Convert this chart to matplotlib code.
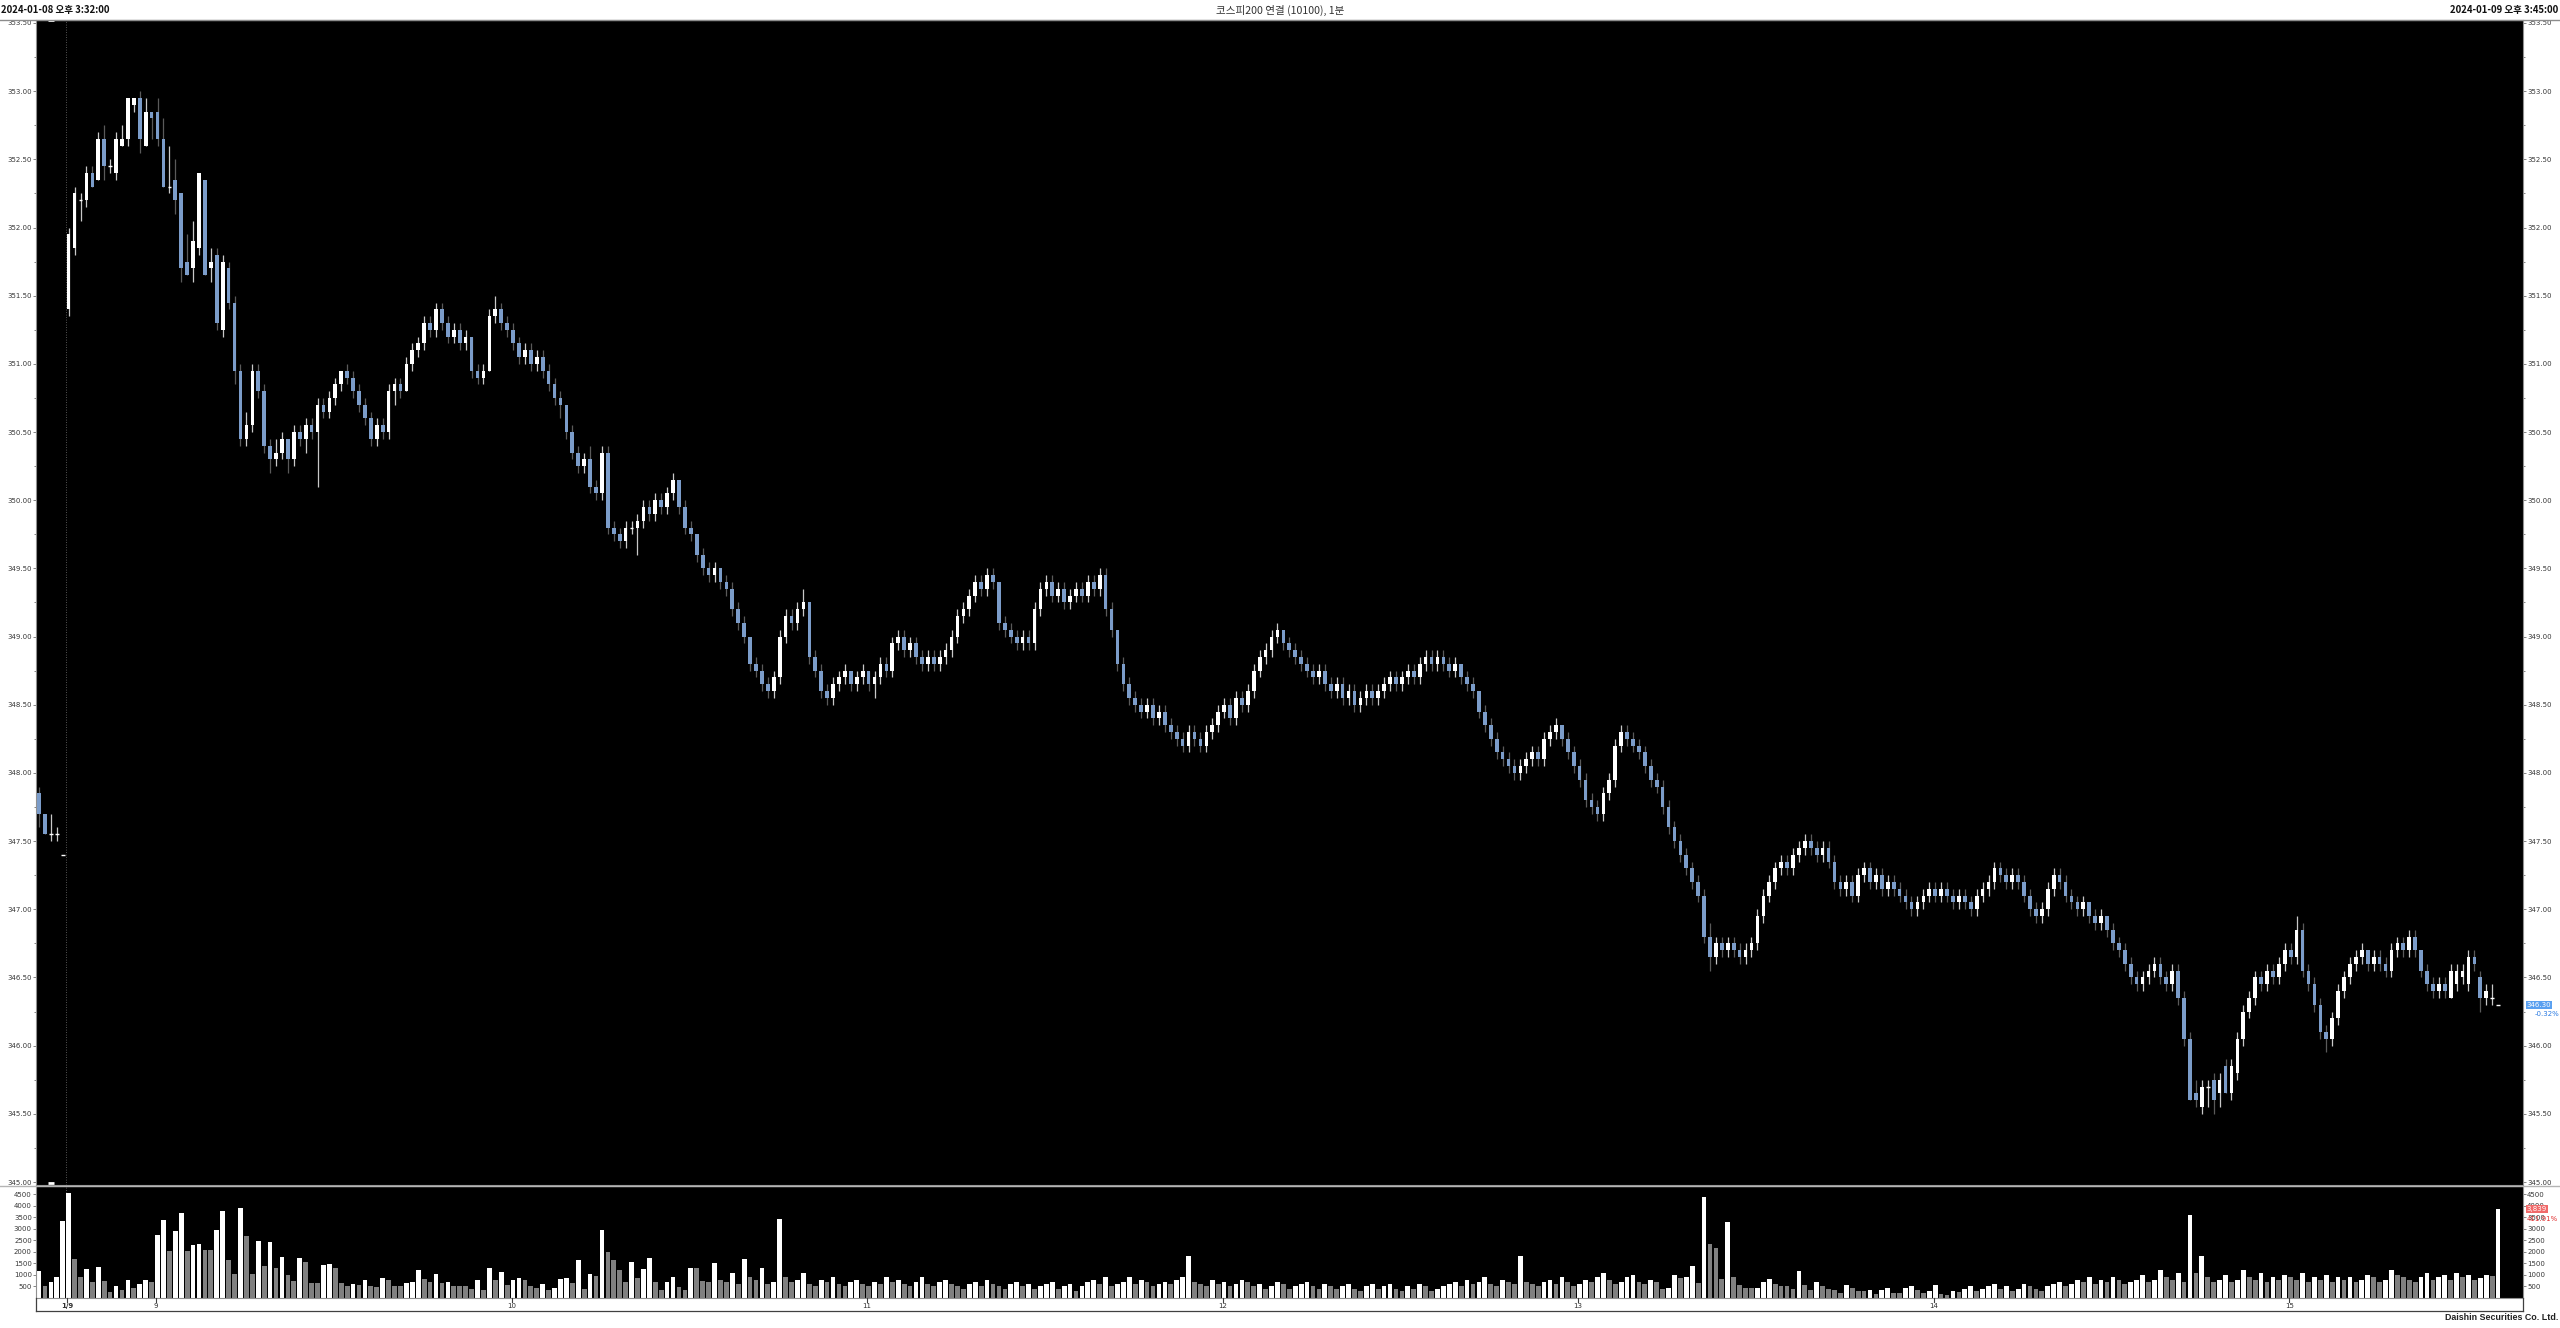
import matplotlib
matplotlib.use('Agg')
import matplotlib.pyplot as plt
from matplotlib.lines import Line2D
from matplotlib.patches import Rectangle

# ---------------- data: 1-minute candles (5 from 1/8 close, then 1/9 08:45 onward) ----------------
opens = [
347.85, 347.70, 347.55, 347.55, 347.40, 351.40, 351.85, 352.20, 352.20, 352.40,
352.35, 352.65, 352.45, 352.40, 352.60, 352.65, 352.90, 352.95, 352.60, 352.85,
352.85, 352.65, 352.30, 352.35, 352.25, 351.75, 351.70, 351.85, 352.35, 351.70,
351.80, 351.25, 351.70, 351.45, 350.95, 350.45, 350.55, 350.95, 350.80, 350.40,
350.30, 350.35, 350.45, 350.30, 350.50, 350.45, 350.55, 350.50, 350.70, 350.65,
350.75, 350.85, 350.95, 350.90, 350.80, 350.70, 350.60, 350.45, 350.55, 350.50,
350.80, 350.85, 350.80, 351.00, 351.10, 351.15, 351.30, 351.25, 351.40, 351.30,
351.20, 351.25, 351.15, 351.20, 350.95, 350.90, 350.95, 351.35, 351.40, 351.30,
351.25, 351.15, 351.05, 351.10, 351.00, 351.05, 350.95, 350.85, 350.75, 350.70,
350.50, 350.35, 350.25, 350.30, 350.10, 350.05, 350.35, 349.80, 349.75, 349.70,
349.80, 349.80, 349.85, 349.95, 349.90, 350.00, 349.95, 350.05, 350.15, 349.95,
349.80, 349.75, 349.60, 349.50, 349.45, 349.50, 349.40, 349.35, 349.20, 349.10,
349.00, 348.80, 348.75, 348.65, 348.60, 348.70, 349.00, 349.15, 349.10, 349.20,
349.25, 348.85, 348.75, 348.60, 348.55, 348.65, 348.70, 348.75, 348.65, 348.70,
348.75, 348.65, 348.70, 348.80, 348.75, 348.95, 349.00, 348.90, 348.95, 348.85,
348.80, 348.85, 348.80, 348.85, 348.90, 349.00, 349.15, 349.20, 349.30, 349.40,
349.35, 349.45, 349.40, 349.10, 349.05, 349.00, 348.95, 349.00, 348.95, 349.20,
349.35, 349.40, 349.30, 349.35, 349.25, 349.30, 349.35, 349.30, 349.40, 349.35,
349.45, 349.20, 349.05, 348.80, 348.65, 348.55, 348.50, 348.45, 348.50, 348.40,
348.45, 348.35, 348.30, 348.25, 348.20, 348.30, 348.25, 348.20, 348.30, 348.35,
348.45, 348.50, 348.40, 348.55, 348.50, 348.60, 348.75, 348.85, 348.90, 349.00,
349.05, 348.95, 348.90, 348.85, 348.80, 348.75, 348.70, 348.75, 348.65, 348.60,
348.65, 348.55, 348.60, 348.50, 348.55, 348.60, 348.55, 348.60, 348.65, 348.70,
348.65, 348.70, 348.75, 348.70, 348.80, 348.85, 348.80, 348.85, 348.80, 348.75,
348.80, 348.70, 348.65, 348.60, 348.45, 348.35, 348.25, 348.15, 348.10, 348.05,
348.00, 348.05, 348.10, 348.15, 348.10, 348.25, 348.30, 348.35, 348.25, 348.15,
348.05, 347.95, 347.80, 347.75, 347.70, 347.85, 347.95, 348.20, 348.30, 348.25,
348.20, 348.15, 348.05, 347.95, 347.90, 347.75, 347.60, 347.50, 347.40, 347.30,
347.20, 347.10, 346.80, 346.65, 346.75, 346.70, 346.75, 346.70, 346.65, 346.70,
346.75, 346.95, 347.10, 347.20, 347.30, 347.35, 347.30, 347.40, 347.45, 347.50,
347.45, 347.40, 347.45, 347.35, 347.20, 347.15, 347.20, 347.10, 347.25, 347.30,
347.20, 347.25, 347.15, 347.20, 347.15, 347.10, 347.05, 347.00, 347.05, 347.10,
347.15, 347.10, 347.15, 347.10, 347.05, 347.10, 347.05, 347.00, 347.10, 347.15,
347.20, 347.30, 347.25, 347.20, 347.25, 347.20, 347.10, 347.00, 346.95, 347.00,
347.15, 347.25, 347.20, 347.10, 347.05, 347.00, 347.05, 346.95, 346.90, 346.95,
346.85, 346.75, 346.70, 346.60, 346.50, 346.45, 346.50, 346.55, 346.60, 346.50,
346.45, 346.55, 346.35, 346.05, 345.65, 345.55, 345.70, 345.75, 345.65, 345.85,
345.65, 345.80, 346.05, 346.25, 346.35, 346.50, 346.45, 346.55, 346.50, 346.60,
346.70, 346.65, 346.85, 346.55, 346.45, 346.30, 346.10, 346.05, 346.20, 346.40,
346.50, 346.60, 346.65, 346.70, 346.60, 346.65, 346.60, 346.55, 346.70, 346.75,
346.70, 346.80, 346.70, 346.55, 346.45, 346.40, 346.45, 346.35, 346.45, 346.50,
346.45, 346.65, 346.50, 346.35, 346.35, 346.30,
]
highs = [
347.90, 347.70, 347.70, 347.60, 347.40, 352.00, 352.30, 352.25, 352.45, 352.45,
352.70, 352.75, 352.50, 352.70, 352.75, 352.95, 352.95, 353.00, 352.95, 352.85,
352.95, 352.80, 352.60, 352.50, 352.25, 351.95, 352.05, 352.40, 352.35, 351.85,
351.85, 351.80, 351.75, 351.50, 351.00, 350.65, 351.00, 351.00, 350.85, 350.45,
350.45, 350.50, 350.45, 350.55, 350.55, 350.60, 350.60, 350.75, 350.75, 350.80,
350.90, 350.95, 351.00, 350.95, 350.85, 350.75, 350.65, 350.60, 350.60, 350.85,
350.90, 350.90, 351.05, 351.15, 351.20, 351.35, 351.35, 351.45, 351.45, 351.35,
351.30, 351.30, 351.25, 351.20, 351.00, 351.00, 351.40, 351.50, 351.45, 351.35,
351.30, 351.20, 351.15, 351.15, 351.10, 351.10, 351.00, 350.90, 350.80, 350.70,
350.55, 350.40, 350.35, 350.40, 350.15, 350.40, 350.40, 349.85, 349.80, 349.85,
349.85, 349.90, 350.00, 350.00, 350.05, 350.05, 350.10, 350.20, 350.15, 350.00,
349.85, 349.75, 349.65, 349.55, 349.55, 349.50, 349.45, 349.40, 349.25, 349.15,
349.00, 348.85, 348.80, 348.70, 348.75, 349.05, 349.20, 349.20, 349.25, 349.35,
349.25, 348.90, 348.80, 348.65, 348.70, 348.75, 348.80, 348.75, 348.75, 348.80,
348.75, 348.75, 348.85, 348.85, 349.00, 349.05, 349.05, 349.00, 349.00, 348.90,
348.90, 348.90, 348.90, 348.95, 349.05, 349.20, 349.25, 349.35, 349.45, 349.45,
349.50, 349.50, 349.40, 349.15, 349.10, 349.05, 349.05, 349.05, 349.25, 349.40,
349.45, 349.45, 349.40, 349.40, 349.35, 349.40, 349.40, 349.45, 349.45, 349.50,
349.50, 349.25, 349.05, 348.85, 348.70, 348.60, 348.55, 348.55, 348.55, 348.50,
348.50, 348.40, 348.35, 348.30, 348.35, 348.35, 348.30, 348.35, 348.40, 348.50,
348.55, 348.55, 348.60, 348.60, 348.65, 348.80, 348.90, 348.95, 349.05, 349.10,
349.05, 349.00, 348.95, 348.90, 348.85, 348.80, 348.80, 348.80, 348.70, 348.70,
348.70, 348.65, 348.65, 348.60, 348.65, 348.65, 348.65, 348.70, 348.75, 348.75,
348.75, 348.80, 348.80, 348.85, 348.90, 348.90, 348.90, 348.90, 348.85, 348.85,
348.80, 348.75, 348.70, 348.60, 348.50, 348.40, 348.30, 348.20, 348.15, 348.10,
348.10, 348.15, 348.20, 348.20, 348.30, 348.35, 348.40, 348.35, 348.30, 348.20,
348.10, 348.00, 347.85, 347.80, 347.90, 348.00, 348.25, 348.35, 348.35, 348.30,
348.25, 348.20, 348.10, 348.00, 347.95, 347.80, 347.65, 347.55, 347.45, 347.35,
347.25, 347.15, 346.90, 346.80, 346.80, 346.80, 346.80, 346.75, 346.75, 346.80,
347.00, 347.15, 347.25, 347.35, 347.40, 347.40, 347.45, 347.50, 347.55, 347.55,
347.50, 347.50, 347.50, 347.40, 347.25, 347.25, 347.25, 347.30, 347.35, 347.35,
347.30, 347.30, 347.25, 347.25, 347.20, 347.15, 347.10, 347.10, 347.15, 347.20,
347.20, 347.20, 347.20, 347.15, 347.15, 347.15, 347.10, 347.15, 347.20, 347.25,
347.35, 347.35, 347.30, 347.30, 347.30, 347.25, 347.15, 347.05, 347.05, 347.20,
347.30, 347.30, 347.25, 347.15, 347.10, 347.10, 347.05, 347.00, 347.00, 346.95,
346.90, 346.80, 346.75, 346.65, 346.55, 346.55, 346.60, 346.65, 346.65, 346.55,
346.60, 346.60, 346.40, 346.10, 345.75, 345.75, 345.75, 345.80, 345.80, 345.90,
345.90, 346.10, 346.30, 346.40, 346.55, 346.55, 346.60, 346.60, 346.65, 346.75,
346.75, 346.95, 346.90, 346.60, 346.50, 346.35, 346.15, 346.25, 346.45, 346.55,
346.65, 346.70, 346.75, 346.70, 346.70, 346.70, 346.65, 346.75, 346.80, 346.80,
346.85, 346.85, 346.70, 346.60, 346.50, 346.50, 346.50, 346.60, 346.60, 346.60,
346.70, 346.70, 346.55, 346.45, 346.45, 346.30,
]
lows = [
347.60, 347.55, 347.50, 347.50, 347.40, 351.35, 351.80, 352.05, 352.15, 352.30,
352.35, 352.35, 352.40, 352.35, 352.60, 352.60, 352.85, 352.55, 352.60, 352.65,
352.60, 352.30, 352.25, 352.10, 351.60, 351.65, 351.60, 351.80, 351.65, 351.60,
351.25, 351.20, 351.40, 350.85, 350.40, 350.40, 350.50, 350.75, 350.35, 350.20,
350.25, 350.30, 350.20, 350.25, 350.40, 350.35, 350.45, 350.10, 350.60, 350.60,
350.70, 350.80, 350.85, 350.75, 350.65, 350.55, 350.40, 350.40, 350.45, 350.45,
350.70, 350.75, 350.80, 350.95, 351.05, 351.10, 351.20, 351.20, 351.25, 351.15,
351.15, 351.10, 351.10, 350.90, 350.85, 350.85, 350.95, 351.30, 351.25, 351.20,
351.10, 351.00, 351.00, 350.95, 350.95, 350.90, 350.80, 350.70, 350.60, 350.45,
350.30, 350.20, 350.20, 350.05, 350.00, 350.00, 349.75, 349.70, 349.65, 349.65,
349.75, 349.60, 349.80, 349.85, 349.85, 349.90, 349.90, 350.00, 349.90, 349.75,
349.70, 349.55, 349.45, 349.40, 349.40, 349.35, 349.30, 349.15, 349.05, 348.95,
348.75, 348.70, 348.60, 348.55, 348.55, 348.65, 348.95, 349.05, 349.05, 349.15,
348.80, 348.70, 348.55, 348.50, 348.50, 348.60, 348.65, 348.60, 348.60, 348.65,
348.60, 348.55, 348.65, 348.70, 348.70, 348.90, 348.85, 348.85, 348.80, 348.75,
348.75, 348.75, 348.75, 348.80, 348.85, 348.95, 349.10, 349.15, 349.25, 349.30,
349.30, 349.35, 349.05, 349.00, 348.95, 348.90, 348.90, 348.90, 348.90, 349.15,
349.30, 349.25, 349.25, 349.20, 349.20, 349.25, 349.25, 349.25, 349.30, 349.30,
349.15, 349.00, 348.75, 348.60, 348.50, 348.45, 348.40, 348.40, 348.35, 348.35,
348.30, 348.25, 348.20, 348.15, 348.15, 348.20, 348.15, 348.15, 348.25, 348.30,
348.40, 348.35, 348.35, 348.45, 348.45, 348.55, 348.70, 348.80, 348.85, 348.95,
348.90, 348.85, 348.80, 348.75, 348.70, 348.65, 348.65, 348.60, 348.55, 348.55,
348.50, 348.50, 348.45, 348.45, 348.50, 348.50, 348.50, 348.55, 348.60, 348.60,
348.60, 348.65, 348.65, 348.65, 348.75, 348.75, 348.75, 348.75, 348.70, 348.70,
348.65, 348.60, 348.55, 348.40, 348.30, 348.20, 348.10, 348.05, 348.00, 347.95,
347.95, 348.00, 348.05, 348.05, 348.05, 348.20, 348.25, 348.20, 348.10, 348.00,
347.90, 347.75, 347.70, 347.65, 347.65, 347.80, 347.90, 348.15, 348.20, 348.15,
348.10, 348.00, 347.90, 347.85, 347.70, 347.55, 347.45, 347.35, 347.25, 347.15,
347.05, 346.75, 346.55, 346.60, 346.65, 346.65, 346.65, 346.60, 346.60, 346.65,
346.70, 346.90, 347.05, 347.15, 347.25, 347.25, 347.25, 347.35, 347.40, 347.40,
347.35, 347.35, 347.30, 347.15, 347.10, 347.10, 347.05, 347.05, 347.20, 347.15,
347.15, 347.10, 347.10, 347.10, 347.05, 347.00, 346.95, 346.95, 347.00, 347.05,
347.05, 347.05, 347.05, 347.00, 347.00, 347.00, 346.95, 346.95, 347.05, 347.10,
347.15, 347.20, 347.15, 347.15, 347.15, 347.05, 346.95, 346.90, 346.90, 346.95,
347.10, 347.15, 347.05, 347.00, 346.95, 346.95, 346.90, 346.85, 346.85, 346.80,
346.70, 346.65, 346.55, 346.45, 346.40, 346.40, 346.45, 346.50, 346.45, 346.40,
346.40, 346.30, 346.00, 345.60, 345.55, 345.50, 345.55, 345.50, 345.55, 345.65,
345.60, 345.75, 346.00, 346.20, 346.30, 346.40, 346.40, 346.45, 346.45, 346.55,
346.60, 346.60, 346.50, 346.40, 346.25, 346.05, 345.95, 346.00, 346.15, 346.35,
346.45, 346.55, 346.60, 346.55, 346.55, 346.55, 346.50, 346.50, 346.65, 346.65,
346.65, 346.65, 346.50, 346.40, 346.35, 346.35, 346.35, 346.35, 346.40, 346.45,
346.40, 346.55, 346.25, 346.30, 346.30, 346.30,
]
closes = [
347.70, 347.55, 347.55, 347.55, 347.40, 351.95, 352.25, 352.20, 352.40, 352.30,
352.65, 352.45, 352.45, 352.65, 352.65, 352.95, 352.95, 352.65, 352.85, 352.80,
352.65, 352.30, 352.30, 352.20, 351.70, 351.65, 351.90, 352.40, 351.65, 351.75,
351.30, 351.75, 351.45, 350.95, 350.45, 350.55, 350.95, 350.80, 350.40, 350.30,
350.35, 350.45, 350.30, 350.50, 350.45, 350.55, 350.50, 350.70, 350.65, 350.75,
350.85, 350.95, 350.90, 350.80, 350.70, 350.60, 350.45, 350.55, 350.50, 350.80,
350.85, 350.80, 351.00, 351.10, 351.15, 351.30, 351.25, 351.40, 351.30, 351.20,
351.25, 351.15, 351.20, 350.95, 350.90, 350.95, 351.35, 351.40, 351.30, 351.25,
351.15, 351.05, 351.10, 351.00, 351.05, 350.95, 350.85, 350.75, 350.70, 350.50,
350.35, 350.25, 350.30, 350.10, 350.05, 350.35, 349.80, 349.75, 349.70, 349.80,
349.80, 349.85, 349.95, 349.90, 350.00, 349.95, 350.05, 350.15, 349.95, 349.80,
349.75, 349.60, 349.50, 349.45, 349.50, 349.40, 349.35, 349.20, 349.10, 349.00,
348.80, 348.75, 348.65, 348.60, 348.70, 349.00, 349.15, 349.10, 349.20, 349.25,
348.85, 348.75, 348.60, 348.55, 348.65, 348.70, 348.75, 348.65, 348.70, 348.75,
348.65, 348.70, 348.80, 348.75, 348.95, 349.00, 348.90, 348.95, 348.85, 348.80,
348.85, 348.80, 348.85, 348.90, 349.00, 349.15, 349.20, 349.30, 349.40, 349.35,
349.45, 349.40, 349.10, 349.05, 349.00, 348.95, 349.00, 348.95, 349.20, 349.35,
349.40, 349.30, 349.35, 349.25, 349.30, 349.35, 349.30, 349.40, 349.35, 349.45,
349.20, 349.05, 348.80, 348.65, 348.55, 348.50, 348.45, 348.50, 348.40, 348.45,
348.35, 348.30, 348.25, 348.20, 348.30, 348.25, 348.20, 348.30, 348.35, 348.45,
348.50, 348.40, 348.55, 348.50, 348.60, 348.75, 348.85, 348.90, 349.00, 349.05,
348.95, 348.90, 348.85, 348.80, 348.75, 348.70, 348.75, 348.65, 348.60, 348.65,
348.55, 348.60, 348.50, 348.55, 348.60, 348.55, 348.60, 348.65, 348.70, 348.65,
348.70, 348.75, 348.70, 348.80, 348.85, 348.80, 348.85, 348.80, 348.75, 348.80,
348.70, 348.65, 348.60, 348.45, 348.35, 348.25, 348.15, 348.10, 348.05, 348.00,
348.05, 348.10, 348.15, 348.10, 348.25, 348.30, 348.35, 348.25, 348.15, 348.05,
347.95, 347.80, 347.75, 347.70, 347.85, 347.95, 348.20, 348.30, 348.25, 348.20,
348.15, 348.05, 347.95, 347.90, 347.75, 347.60, 347.50, 347.40, 347.30, 347.20,
347.10, 346.80, 346.65, 346.75, 346.70, 346.75, 346.70, 346.65, 346.70, 346.75,
346.95, 347.10, 347.20, 347.30, 347.35, 347.30, 347.40, 347.45, 347.50, 347.45,
347.40, 347.45, 347.35, 347.20, 347.15, 347.20, 347.10, 347.25, 347.30, 347.20,
347.25, 347.15, 347.20, 347.15, 347.10, 347.05, 347.00, 347.05, 347.10, 347.15,
347.10, 347.15, 347.10, 347.05, 347.10, 347.05, 347.00, 347.10, 347.15, 347.20,
347.30, 347.25, 347.20, 347.25, 347.20, 347.10, 347.00, 346.95, 347.00, 347.15,
347.25, 347.20, 347.10, 347.05, 347.00, 347.05, 346.95, 346.90, 346.95, 346.85,
346.75, 346.70, 346.60, 346.50, 346.45, 346.50, 346.55, 346.60, 346.50, 346.45,
346.55, 346.35, 346.05, 345.60, 345.60, 345.70, 345.70, 345.60, 345.75, 345.65,
345.85, 346.05, 346.25, 346.35, 346.50, 346.45, 346.55, 346.50, 346.60, 346.70,
346.65, 346.85, 346.55, 346.45, 346.30, 346.10, 346.05, 346.20, 346.40, 346.50,
346.60, 346.65, 346.70, 346.60, 346.65, 346.60, 346.55, 346.70, 346.75, 346.70,
346.80, 346.70, 346.55, 346.45, 346.40, 346.45, 346.40, 346.55, 346.55, 346.55,
346.65, 346.60, 346.35, 346.40, 346.35, 346.30,
]

vol_rows = [
[1155, 505, 693, 895, 3321, 4549, 1690, 910, 1270, 693],
[1330, 750, 274, 534, 361, 794, 433, 621, 794, 693],
[2742, 3391, 2049, 2886, 3665, 2020, 2280, 2338, 2100, 2090],
[2958, 3781, 1659, 1039, 3896, 2698, 1053, 2482, 1385, 2410],
[1299, 1760, 996, 736, 1732, 1573, 649, 649, 1443, 1472],
[1299, 649, 505, 620, 563, 765, 519, 491, 851, 765],
[534, 519, 649, 678, 1198, 822, 707, 1025, 649, 678],
[534, 530, 525, 390, 765, 346, 1299, 765, 1140, 563],
[779, 851, 765, 519, 418, 620, 361, 447, 822, 880],
[649, 1645, 390, 1053, 967, 2944, 2006, 1631, 1227, 707],
[1544, 880, 1255, 1732, 678, 332, 678, 909, 476, 361],
[1313, 1313, 736, 707, 1500, 800, 700, 1100, 600, 1700],
[900, 800, 1300, 600, 700, 3400, 900, 700, 800, 1100],
[600, 500, 800, 700, 900, 600, 500, 700, 800, 600],
[500, 700, 600, 900, 700, 800, 600, 500, 700, 900],
[600, 500, 700, 800, 600, 500, 400, 600, 700, 500],
[800, 600, 500, 400, 600, 700, 500, 600, 400, 500],
[600, 700, 400, 500, 600, 300, 500, 700, 800, 600],
[900, 500, 600, 700, 900, 600, 800, 700, 500, 600],
[700, 600, 800, 900, 1800, 700, 600, 500, 800, 600],
[700, 500, 600, 800, 700, 500, 600, 400, 500, 700],
[600, 400, 500, 600, 700, 500, 400, 600, 500, 400],
[500, 600, 400, 300, 500, 600, 400, 500, 600, 400],
[300, 500, 400, 600, 500, 300, 400, 500, 600, 700],
[500, 800, 600, 700, 900, 600, 500, 800, 700, 600],
[1800, 700, 600, 500, 700, 800, 600, 900, 700, 500],
[600, 800, 700, 900, 1100, 800, 600, 700, 900, 1000],
[700, 600, 800, 700, 372, 444, 1017, 860, 917, 1375],
[659, 4384, 2350, 2163, 802, 3281, 903, 573, 444, 415],
[444, 702, 802, 616, 516, 516, 372, 1189, 573, 330],
[702, 516, 401, 344, 200, 544, 430, 301, 301, 330],
[186, 344, 444, 229, 229, 444, 516, 330, 229, 301],
[544, 158, 115, 301, 258, 400, 500, 300, 400, 500],
[600, 400, 500, 300, 400, 600, 500, 400, 300, 500],
[600, 700, 500, 600, 800, 700, 900, 600, 800, 700],
[900, 800, 600, 700, 800, 1000, 700, 800, 1200, 900],
[800, 1100, 700, 3600, 1100, 1800, 900, 700, 800, 1000],
[700, 800, 1200, 900, 800, 1100, 700, 900, 800, 1000],
[900, 800, 1100, 700, 900, 800, 1000, 700, 900, 800],
[900, 700, 800, 1000, 900, 700, 800, 1200, 1000, 900],
[800, 700, 900, 1100, 800, 900, 1000, 800, 1100, 900],
[1000, 800, 850, 1000, 932, 3839],
]
volumes = [v for row in vol_rows for v in row]

x_labels = ['1/9', '9', '10', '11', '12', '13', '14', '15']
x_label_idx = [5, 20, 80, 140, 200, 260, 320, 380]

prev_close = 347.40
title_left = '2024-01-08 오후 3:32:00'
title_center = '코스피200 연결 (10100), 1분'
title_right = '2024-01-09 오후 3:45:00'
footer = 'Daishin Securities Co. Ltd.'

# ---------------- figure ----------------
W, H = 2560, 1328
fig = plt.figure(figsize=(W / 100, H / 100), dpi=100)
fig.patch.set_facecolor('white')

def rect(x0, y0, x1, y1):
    return [x0 / W, 1 - y1 / H, (x1 - x0) / W, (y1 - y0) / H]

ax = fig.add_axes(rect(36, 20, 2523, 1185))
axv = fig.add_axes(rect(36, 1186, 2523, 1298))

UP_BODY = '#ffffff'
DN_BODY = '#7b9cc9'
UP_WICK = '#c8c8c8'
DN_WICK = '#5a5a5a'
LBL = '#383838'

n = min(len(opens), len(highs), len(lows), len(closes))
nv = len(volumes)
for a in (ax, axv):
    a.set_facecolor('black')
    a.set_xlim(-0.51, 419.2)
    for s in a.spines.values():
        s.set_color('#909090')
        s.set_linewidth(0.8)
    a.set_xticks([])

bw = 0.62
for i in range(n):
    o, h, l, c = opens[i], highs[i], lows[i], closes[i]
    up = c >= o
    wc = UP_WICK if up else DN_WICK
    ax.vlines(i, min(l, o, c), max(h, o, c), color=wc, linewidth=0.9, zorder=2)
    if abs(c - o) < 1e-9:
        ax.hlines(c, i - bw / 2, i + bw / 2, color='white', linewidth=1.0, zorder=3)
    else:
        ax.add_patch(Rectangle((i - bw / 2, min(o, c)), bw, abs(c - o),
                               facecolor=UP_BODY if up else DN_BODY,
                               edgecolor='none', zorder=3))

ax.set_ylim(344.978, 353.522)
yt = [345.0 + 0.5 * k for k in range(18)]
ax.set_yticks(yt)
ax.set_yticklabels([f'{v:.2f}' for v in yt])
ax.set_yticks([345.25 + 0.5 * k for k in range(17)], minor=True)

vcols = []
for i, v in enumerate(volumes):
    if i == 0:
        vcols.append('white')
    else:
        vcols.append('white' if v > volumes[i - 1] else '#808080')
axv.bar(list(range(nv)), volumes, width=0.8, color=vcols, edgecolor='none', zorder=2)
axv.set_ylim(0, 4850)
vt = list(range(500, 5000, 500))
axv.set_yticks(vt)
axv.set_yticklabels([str(v) for v in vt])

for a in (ax, axv):
    a.tick_params(axis='y', which='both', left=True, right=True,
                  labelleft=True, labelright=True, direction='out',
                  colors='#707070', labelcolor=LBL, labelsize=5.0,
                  length=2.5, width=0.6, pad=0.5)
    a.tick_params(axis='y', which='minor', length=1.5)

for a in (ax, axv):
    a.axvline(4.55, color='#707070', linewidth=0.6, linestyle=(0, (1, 2)), zorder=1)

ax.plot([2.0], [353.52], marker='_', color='white', markersize=4, mew=2, clip_on=False, zorder=5)
ax.plot([2.0], [344.99], marker='_', color='white', markersize=4, mew=2, clip_on=False, zorder=5)

fig.add_artist(Line2D([0, 1], [1 - 20 / H, 1 - 20 / H], color='#8c8c8c', linewidth=1.0))
fig.add_artist(Line2D([0, 1], [1 - 1185.5 / H, 1 - 1185.5 / H], color='#b4b4b4', linewidth=1.0))
fig.add_artist(Line2D([36 / W, 2523 / W], [1 - 1311 / H, 1 - 1311 / H], color='#404040', linewidth=0.9))
fig.add_artist(Line2D([36 / W, 36 / W], [1 - 1298 / H, 1 - 1311 / H], color='#404040', linewidth=0.9))
fig.add_artist(Line2D([2523 / W, 2523 / W], [1 - 1298 / H, 1 - 1311 / H], color='#404040', linewidth=0.9))

def xpix(i):
    return 36 + (i + 0.51) / (419.2 + 0.51) * (2523 - 36)

for lab, idx in zip(x_labels, x_label_idx):
    xp = xpix(idx) - 1.5
    fig.add_artist(Line2D([xp / W, xp / W], [1 - 1298 / H, 1 - 1302 / H], color='#404040', linewidth=0.8))
    fig.text(xp / W, 1 - 1306 / H, lab, ha='center', va='center', fontsize=5.0,
             color='#303030', fontfamily='DejaVu Sans', fontweight='bold' if lab == '1/9' else 'normal')

kfont = ['Noto Sans CJK KR', 'DejaVu Sans']
fig.text(1 / W, 1 - 10 / H, title_left, ha='left', va='center', fontsize=6.9,
         fontweight='bold', family=kfont, color='#111111')
fig.text(1280 / W, 1 - 10.5 / H, title_center, ha='center', va='center', fontsize=7.6,
         family=kfont, color='#333333')
fig.text(2558 / W, 1 - 10 / H, title_right, ha='right', va='center', fontsize=6.9,
         fontweight='bold', family=kfont, color='#111111')
fig.text(2558 / W, 1 - 1318 / H, footer, ha='right', va='center', fontsize=6.4,
         fontweight='bold', family=['Liberation Sans', 'DejaVu Sans'], color='#222222')

last = closes[n - 1]
chg = (last / prev_close - 1) * 100
ax.text(1.0015, last, f'{last:.2f}', transform=ax.get_yaxis_transform(), ha='left', va='center',
        fontsize=5.0, color='white', clip_on=False, zorder=10,
        bbox=dict(boxstyle='square,pad=0.15', facecolor='#5aa0f0', edgecolor='none'))
ax.text(1.0045, last - 0.07, f'{chg:.2f}%', transform=ax.get_yaxis_transform(), ha='left', va='center',
        fontsize=5.0, color='#2a7ae2', clip_on=False, zorder=10)

lv = volumes[-1]
ratio = lv / volumes[-2] * 100
axv.text(1.0015, lv, f'{lv:,}', transform=axv.get_yaxis_transform(), ha='left', va='center',
         fontsize=5.0, color='white', clip_on=False, zorder=10,
         bbox=dict(boxstyle='square,pad=0.15', facecolor='#f06a6a', edgecolor='none'))
axv.text(1.0015, lv - 420, f'{ratio:.2f}%', transform=axv.get_yaxis_transform(), ha='left', va='center',
         fontsize=5.0, color='#e03030', clip_on=False, zorder=10)

fig.savefig('out.png', dpi=100, facecolor='white')
